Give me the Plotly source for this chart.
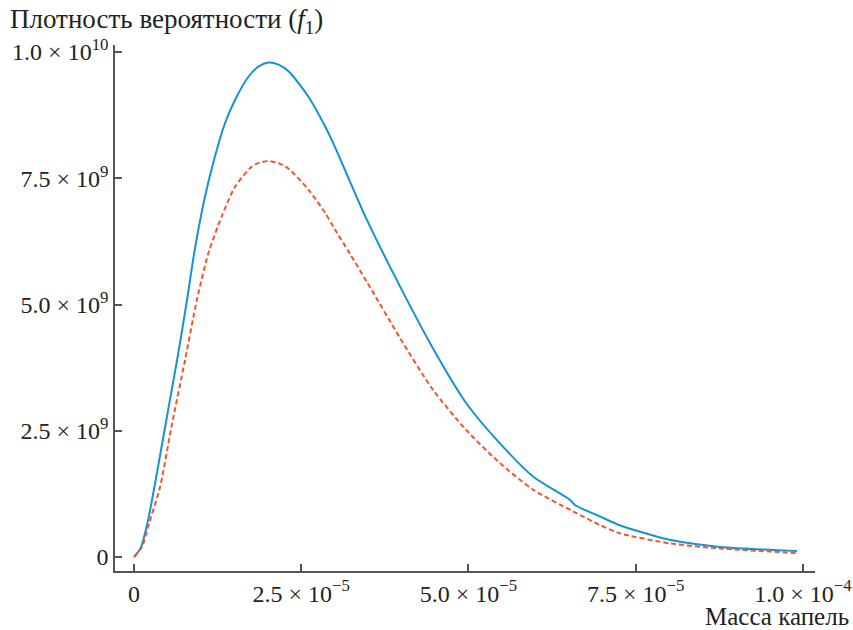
import plotly.graph_objects as go

# Data (droplet mass, probability density)
mass_blue = [0.0, 0.1e-5, 0.21e-5, 0.36e-5, 0.51e-5, 0.66e-5, 0.79e-5, 0.91e-5, 1.06e-5, 1.21e-5,
             1.36e-5, 1.51e-5, 1.71e-5, 1.86e-5, 2.01e-5, 2.16e-5, 2.31e-5, 2.61e-5, 2.86e-5, 2.98e-5,
             3.23e-5, 3.48e-5, 3.98e-5, 4.47e-5, 4.97e-5, 5.47e-5, 5.97e-5, 6.52e-5, 6.59e-5, 6.97e-5,
             7.26e-5, 8.01e-5, 8.76e-5, 9.91e-5]
dens_blue = [0.0, 0.18e9, 0.73e9, 1.79e9, 2.91e9, 4.02e9, 5.07e9, 6.10e9, 7.13e9, 7.93e9,
             8.59e9, 9.05e9, 9.51e9, 9.71e9, 9.79e9, 9.75e9, 9.62e9, 9.11e9, 8.52e9, 8.19e9,
             7.43e9, 6.68e9, 5.35e9, 4.13e9, 3.04e9, 2.25e9, 1.59e9, 1.13e9, 1.03e9, 0.80e9,
             0.63e9, 0.34e9, 0.20e9, 0.12e9]

mass_red = [0.0, 0.12e-5, 0.21e-5, 0.39e-5, 0.56e-5, 0.76e-5, 0.94e-5, 1.11e-5, 1.31e-5, 1.51e-5,
            1.76e-5, 1.88e-5, 2.01e-5, 2.16e-5, 2.31e-5, 2.61e-5, 2.86e-5, 2.98e-5, 3.23e-5, 3.48e-5,
            3.98e-5, 4.47e-5, 4.97e-5, 5.47e-5, 5.97e-5, 6.57e-5, 6.97e-5, 7.26e-5, 8.01e-5, 8.76e-5,
            9.91e-5]
dens_red = [0.0, 0.20e9, 0.60e9, 1.39e9, 2.58e9, 3.88e9, 5.09e9, 6.01e9, 6.74e9, 7.33e9,
            7.73e9, 7.81e9, 7.84e9, 7.80e9, 7.69e9, 7.27e9, 6.81e9, 6.54e9, 6.00e9, 5.45e9,
            4.33e9, 3.31e9, 2.51e9, 1.86e9, 1.33e9, 0.90e9, 0.63e9, 0.47e9, 0.27e9, 0.17e9,
            0.08e9]

x_tickvals = [0, 2.5e-5, 5.0e-5, 7.5e-5, 1.0e-4]
x_ticktext = ["0", "2.5 × 10<sup>−5</sup>", "5.0 × 10<sup>−5</sup>",
              "7.5 × 10<sup>−5</sup>", "1.0 × 10<sup>−4</sup>"]
y_tickvals = [0, 2.5e9, 5.0e9, 7.5e9, 1.0e10]
y_ticktext = ["0", "2.5 × 10<sup>9</sup>", "5.0 × 10<sup>9</sup>",
              "7.5 × 10<sup>9</sup>", "1.0 × 10<sup>10</sup>"]

x_title = "Масса капель"
y_title = "Плотность вероятности (<i>f</i><sub>1</sub>)"

FONT = "Liberation Serif"
AXIS_COLOR = "#555555"
TEXT_COLOR = "#222222"

fig = go.Figure()
fig.add_trace(go.Scatter(x=mass_blue, y=dens_blue, mode="lines",
                         line=dict(color="#1493d3", width=2, shape="spline", smoothing=0.7),
                         showlegend=False))
fig.add_trace(go.Scatter(x=mass_red, y=dens_red, mode="lines",
                         line=dict(color="#f2552e", width=2, dash="5px,3px", shape="spline", smoothing=0.7),
                         showlegend=False))

fig.update_layout(
    width=853, height=630,
    margin=dict(l=115, r=38, t=45, b=59),
    paper_bgcolor="white", plot_bgcolor="white",
    font=dict(family=FONT, size=24, color=TEXT_COLOR),
    xaxis=dict(range=[-2.84e-6, 1.018e-4], tickvals=x_tickvals, ticktext=x_ticktext,
               ticks="inside", ticklen=7, tickcolor=AXIS_COLOR, tickwidth=1.5,
               showline=True, linecolor=AXIS_COLOR, linewidth=1.5, ticklabeloverflow="allow",
               showgrid=False, zeroline=False, automargin=False),
    yaxis=dict(range=[-2.77e8, 1.0139e10], tickvals=y_tickvals, ticktext=y_ticktext,
               ticks="inside", ticklen=7, tickcolor=AXIS_COLOR, tickwidth=1.5,
               showline=True, linecolor=AXIS_COLOR, linewidth=1.5, ticklabeloverflow="allow",
               showgrid=False, zeroline=False, automargin=False),
    annotations=[
        dict(text=x_title, xref="paper", yref="paper", x=1.0514, y=-0.0856,
             xanchor="right", yanchor="middle", showarrow=False,
             font=dict(family=FONT, size=25, color=TEXT_COLOR)),
        dict(text=y_title, xref="paper", yref="paper", x=-0.153, y=1.0455,
             xanchor="left", yanchor="middle", showarrow=False,
             font=dict(family=FONT, size=27, color=TEXT_COLOR)),
    ],
)

fig.write_html("out.html", config={"displayModeBar": False},
               post_script="document.body.style.margin='0';")
